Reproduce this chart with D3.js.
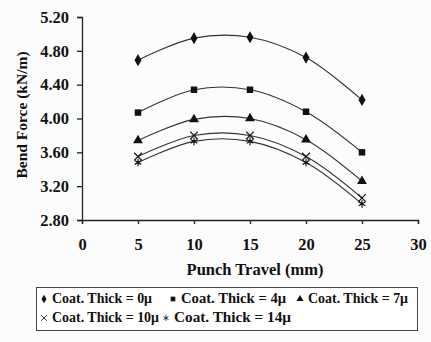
<!DOCTYPE html>
<html>
<head>
<meta charset="utf-8">
<script src="https://cdn.jsdelivr.net/npm/d3@7"></script>
<style>
  body { margin: 0; background: #fff; }
  svg { display: block; font-family: "Liberation Serif", "Times New Roman", serif; font-weight: bold; }
</style>
</head>
<body>
<svg id="svg" width="431" height="342"></svg>
<script>
const travel = [5, 10, 15, 20, 25];
const labels = ['Coat. Thick = 0\u03bc', 'Coat. Thick = 4\u03bc', 'Coat. Thick = 7\u03bc', 'Coat. Thick = 10\u03bc', 'Coat. Thick = 14\u03bc'];
const thick0 = [4.69, 4.95, 4.96, 4.72, 4.22];
const thick4 = [4.07, 4.34, 4.34, 4.08, 3.60];
const thick7 = [3.74, 3.99, 4.00, 3.75, 3.26];
const thick10 = [3.55, 3.80, 3.80, 3.55, 3.06];
const thick14 = [3.48, 3.73, 3.73, 3.48, 2.99];
const yTicks = [2.8, 3.2, 3.6, 4.0, 4.4, 4.8, 5.2];
const xTicks = [0, 5, 10, 15, 20, 25, 30];

const series = [thick0, thick4, thick7, thick10, thick14];
const symbols = [d3.symbolDiamond, d3.symbolSquare, d3.symbolTriangle, d3.symbolTimes, d3.symbolAsterisk];

const svg = d3.select('svg');
const margin = { left: 82, top: 17, right: 13, bottom: 122 };
const width = 431, height = 342;

svg.append('rect').attr('width', width).attr('height', height).attr('fill', '#fcfcfc');

const x = d3.scaleLinear().domain([0, 30]).range([margin.left, width - margin.right]);
const y = d3.scaleLinear().domain([2.8, 5.2]).range([height - margin.bottom, margin.top]);

// axes
const yAxis = svg.append('g')
	.attr('transform', `translate(${margin.left},0)`)
	.call(d3.axisLeft(y).tickValues(yTicks).tickFormat(d3.format('.2f')).tickSize(5).tickPadding(8));
const xAxis = svg.append('g')
	.attr('transform', `translate(0,${y(2.8)})`)
	.call(d3.axisBottom(x).tickValues(xTicks).tickSize(4).tickPadding(14));
[yAxis, xAxis].forEach((g) => {
	g.select('.domain').attr('stroke', '#222').attr('stroke-width', 1.3);
	g.selectAll('.tick line').attr('stroke', '#222').attr('stroke-width', 1.3);
	g.selectAll('text').attr('font-size', 16.5).attr('font-family', 'Liberation Serif').attr('font-weight', 'bold').attr('fill', '#111');
});

// titles
svg.append('text')
	.attr('transform', `translate(27,${115}) rotate(-90)`)
	.attr('text-anchor', 'middle')
	.attr('font-size', 15.5)
	.attr('fill', '#111')
	.text('Bend Force (kN/m)');
svg.append('text')
	.attr('x', 255).attr('y', 275)
	.attr('text-anchor', 'middle')
	.attr('font-size', 16.5)
	.attr('fill', '#111')
	.text('Punch Travel (mm)');

// lines
const line = d3.line()
	.x((d, i) => x(travel[i]))
	.y((d) => y(d))
	.curve(d3.curveCatmullRom.alpha(0.5));

series.forEach((vals, s) => {
	svg.append('path')
		.attr('d', line(vals))
		.attr('fill', 'none')
		.attr('stroke', '#333')
		.attr('stroke-width', 1.1);
	const sym = d3.symbol().type(symbols[s]).size(s < 3 ? 42 : 40);
	svg.selectAll(null)
		.data(vals)
		.enter()
		.append('path')
		.attr('transform', (d, i) => `translate(${x(travel[i])},${y(d)})`)
		.attr('d', sym)
		.attr('fill', s < 3 ? '#111' : 'none')
		.attr('stroke', '#111')
		.attr('stroke-width', s < 3 ? 0 : 1.2);
});

// legend
const legend = svg.append('g');
legend.append('rect')
	.attr('x', 36.5).attr('y', 287.5)
	.attr('width', 381).attr('height', 43)
	.attr('fill', '#fff')
	.attr('stroke', '#444')
	.attr('stroke-width', 1);
const legPos = [[44, 303, 100], [173, 303, 105], [300, 303, 100], [44, 322, 107], [166, 322, 117]];
labels.forEach((lab, s) => {
	const [lx, ly, len] = legPos[s];
	legend.append('path')
		.attr('transform', `translate(${lx},${ly - 4})`)
		.attr('d', d3.symbol().type(symbols[s]).size(22))
		.attr('fill', s < 3 ? '#111' : 'none')
		.attr('stroke', s < 3 ? 'none' : '#333')
		.attr('stroke-width', 1);
	legend.append('text')
		.attr('x', lx + 8).attr('y', ly)
		.attr('font-size', 14)
		.attr('textLength', len)
		.attr('lengthAdjust', 'spacingAndGlyphs')
		.attr('fill', '#111')
		.text(lab);
});
</script>
</body>
</html>
